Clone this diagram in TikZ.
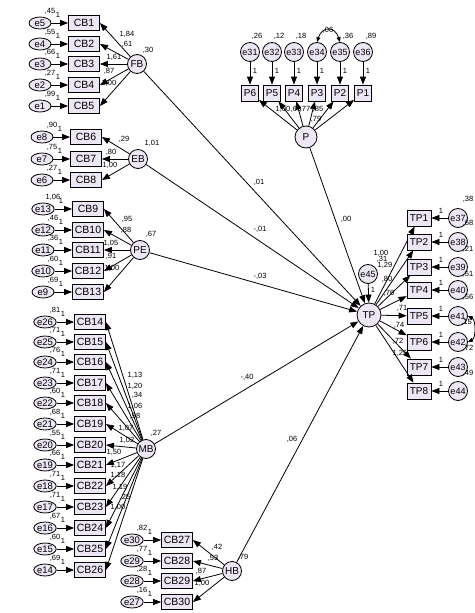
\documentclass[tikz,border=0pt]{standalone}
\usepackage{fontspec}
\setmainfont{Liberation Sans}
\usetikzlibrary{arrows.meta,shapes.geometric,calc}
\definecolor{nf}{RGB}{236,230,245}
\newcommand{\mylbl}[3]{\node[lbl] at (#1,#2) {#3};}
\newcommand{\mkind}[8]{%
  \node[obs] (#1) at (#3,#4) {#2};
  \node[err] (#5) at (#7,#4) {#6};
  \draw[arr] (#5) -- (#1);
  \node[lbl] at ($(#7,#4)+(10,-12)$) {#8};
  \node[lbl] at ($(#7,#4)+(18,-8)$) {1};
}
\begin{document}
\begin{tikzpicture}[x=1pt,y=-1pt,
 obs/.style={draw,fill=nf,line width=0.8pt,minimum width=31pt,minimum height=15pt,inner sep=0pt,font=\fontsize{10.5}{11}\selectfont},
 tpb/.style={draw,fill=nf,line width=0.8pt,minimum width=24pt,minimum height=16pt,inner sep=0pt,font=\fontsize{10}{11}\selectfont},
 pb/.style={draw,fill=nf,line width=0.8pt,minimum width=17pt,minimum height=16pt,inner sep=0pt,font=\fontsize{10}{11}\selectfont},
 err/.style={draw,fill=nf,line width=0.8pt,ellipse,minimum width=22pt,minimum height=12pt,inner sep=0pt,font=\fontsize{9.5}{10}\selectfont},
 lat/.style={draw,fill=nf,line width=0.8pt,circle,minimum size=19pt,inner sep=0pt,font=\fontsize{10}{11}\selectfont},
 ecirc/.style={draw,fill=nf,line width=0.8pt,circle,minimum size=19pt,inner sep=0pt,font=\fontsize{9}{10}\selectfont},
 lbl/.style={font=\fontsize{7.5}{8}\selectfont,inner sep=0pt},
 arr/.style={-{Triangle[length=8pt,width=6pt]},line width=0.8pt},
 darr/.style={{Triangle[length=5pt,width=4pt]}-{Triangle[length=5pt,width=4pt]},line width=0.8pt},
]
\useasboundingbox (0,0) rectangle (474,613);

% ---------- FB ----------
\node[lat] (FB) at (137,64) {FB};
\mkind{CB1}{CB1}{84}{23}{e5}{e5}{40}{,45}
\mkind{CB2}{CB2}{84}{44}{e4}{e4}{40}{,55}
\mkind{CB3}{CB3}{84}{64}{e3}{e3}{40}{,66}
\mkind{CB4}{CB4}{84}{85}{e2}{e2}{40}{,27}
\mkind{CB5}{CB5}{84}{106}{e1}{e1}{40}{,99}
\foreach \b in {1,...,5} \draw[arr] (FB) -- (CB\b.east);
\mylbl{127}{34}{1,84}
\mylbl{127}{44}{,61}
\mylbl{114}{57}{1,61}
\mylbl{109}{71}{,87}
\mylbl{109}{83}{1,00}
\mylbl{148}{50}{,30}

% ---------- EB ----------
\node[lat] (EB) at (138,159) {EB};
\mkind{CB6}{CB6}{86}{137}{e8}{e8}{42}{,90}
\mkind{CB7}{CB7}{86}{159}{e7}{e7}{42}{,75}
\mkind{CB8}{CB8}{86}{180}{e6}{e6}{42}{,27}
\foreach \b in {6,7,8} \draw[arr] (EB) -- (CB\b.east);
\mylbl{124}{139}{,29}
\mylbl{111}{152}{,80}
\mylbl{110}{165}{1,00}
\mylbl{152}{143}{1,01}

% ---------- PE ----------
\node[lat] (PE) at (140,250) {PE};
\mkind{CB9}{CB9}{88}{209}{e13}{e13}{43}{1,06}
\mkind{CB10}{CB10}{88}{230}{e12}{e12}{43}{,46}
\mkind{CB11}{CB11}{88}{250}{e11}{e11}{43}{,36}
\mkind{CB12}{CB12}{88}{271}{e10}{e10}{43}{,60}
\mkind{CB13}{CB13}{88}{292}{e9}{e9}{43}{,69}
\foreach \b in {9,...,13} \draw[arr] (PE) -- (CB\b.east);
\mylbl{127}{219}{,95}
\mylbl{126}{230}{,88}
\mylbl{111}{243}{1,05}
\mylbl{111}{256}{,91}
\mylbl{112}{268}{1,00}
\mylbl{151}{234}{,67}

% ---------- MB ----------
\node[lat] (MB) at (146,449) {MB};
\mkind{CB14}{CB14}{90}{322}{e26}{e26}{45}{,81}
\mkind{CB15}{CB15}{90}{342}{e25}{e25}{45}{,71}
\mkind{CB16}{CB16}{90}{362}{e24}{e24}{45}{,76}
\mkind{CB17}{CB17}{90}{383}{e23}{e23}{45}{,71}
\mkind{CB18}{CB18}{90}{403}{e22}{e22}{45}{,60}
\mkind{CB19}{CB19}{90}{424}{e21}{e21}{45}{,68}
\mkind{CB20}{CB20}{90}{445}{e20}{e20}{45}{,55}
\mkind{CB21}{CB21}{90}{465}{e19}{e19}{45}{,66}
\mkind{CB22}{CB22}{90}{486}{e18}{e18}{45}{,71}
\mkind{CB23}{CB23}{90}{507}{e17}{e17}{45}{,71}
\mkind{CB24}{CB24}{90}{528}{e16}{e16}{45}{,67}
\mkind{CB25}{CB25}{90}{549}{e15}{e15}{45}{,60}
\mkind{CB26}{CB26}{90}{570}{e14}{e14}{45}{,69}
\foreach \b in {14,...,26} \draw[arr] (MB) -- (CB\b.east);
\mylbl{135}{375}{1,13}
\mylbl{135}{386}{1,20}
\mylbl{137}{395}{,34}
\mylbl{135}{406}{1,06}
\mylbl{135}{416}{,98}
\mylbl{126}{428}{1,07}
\mylbl{127}{440}{1,02}
\mylbl{114}{452}{1,50}
\mylbl{118}{465}{1,17}
\mylbl{118}{475}{1,18}
\mylbl{120}{487}{1,19}
\mylbl{125}{497}{,25}
\mylbl{118}{507}{1,00}
\mylbl{156}{433}{,27}

% ---------- HB ----------
\node[lat] (HB) at (232,571) {HB};
\mkind{CB27}{CB27}{177}{540}{e30}{e30}{132}{,82}
\mkind{CB28}{CB28}{177}{561}{e29}{e29}{132}{,77}
\mkind{CB29}{CB29}{177}{581}{e28}{e28}{132}{,28}
\mkind{CB30}{CB30}{177}{602}{e27}{e27}{132}{,16}
\foreach \b in {27,...,30} \draw[arr] (HB) -- (CB\b.east);
\mylbl{217}{547}{,42}
\mylbl{213}{558}{,53}
\mylbl{201}{571}{,87}
\mylbl{202}{583}{1,00}
\mylbl{243}{557}{,79}

% ---------- P ----------
\node[lat,minimum size=22pt] (P) at (306,137) {P};
\foreach \k/\x/\v in {6/250/31,5/272/32,4/294/33,3/317/34,2/340/35,1/363/36}{
  \node[pb] (P\k) at (\x,93) {P\k};
  \node[ecirc] (e\v) at (\x,52) {e\v};
  \draw[arr] (e\v) -- (P\k);
  \node[lbl] at (\x+5,71) {1};
  \draw[arr] (P) -- (P\k);
}
\mylbl{257}{36}{,26}
\mylbl{279}{36}{,12}
\mylbl{301}{36}{,18}
\mylbl{348}{36}{,36}
\mylbl{371}{36}{,89}
\draw[darr] (e34.north) .. controls (322,26) and (335,26) .. (e35.north);
\mylbl{328}{30}{,06}
\mylbl{283}{109}{1,00}
\mylbl{296}{109}{,60}
\mylbl{305}{109}{,77}
\mylbl{318}{109}{,85}
\mylbl{316}{119}{,79}

% ---------- TP ----------
\node[lat,minimum size=24pt] (TP) at (369,315) {TP};
\node[ecirc] (e45) at (368,274) {e45};
\draw[arr] (e45) -- (TP);
\mylbl{373}{290}{1}
\mylbl{382}{259}{,31}
\foreach \k/\y/\v in {1/218/37,2/242/38,3/267/39,4/290/40,5/316/41,6/342/42,7/367/43,8/391/44}{
  \node[tpb] (TP\k) at (419,\y) {TP\k};
  \node[ecirc] (e\v) at (458,\y) {e\v};
  \draw[arr] (e\v) -- (TP\k);
  \node[lbl] at (441,\y-7) {1};
  \draw[arr] (TP) -- (TP\k);
}
\mylbl{381}{253}{1,00}
\mylbl{385}{265}{1,29}
\mylbl{387}{279}{,80}
\mylbl{389}{293}{,76}
\mylbl{402}{308}{,71}
\mylbl{399}{325}{,74}
\mylbl{398}{341}{,72}
\mylbl{400}{353}{1,25}
\node[lbl,anchor=east] at (473.5,199) {,38};
\node[lbl,anchor=east] at (473.5,223) {,68};
\node[lbl,anchor=east] at (473.5,249) {,21};
\node[lbl,anchor=east] at (473.5,274) {,51};
\node[lbl,anchor=east] at (473.5,297) {,56};
\node[lbl,anchor=east] at (472,322) {,15};
\node[lbl,anchor=east] at (473.5,348) {,72};
\node[lbl,anchor=east] at (473.5,373) {,49};
\draw[darr] (e41.east) .. controls (476,320) and (476,338) .. (e42.east);

% ---------- structural paths ----------
\draw[arr] (FB) -- (TP);
\draw[arr] (EB) -- (TP);
\draw[arr] (PE) -- (TP);
\draw[arr] (MB) -- (TP);
\draw[arr] (HB) -- (TP);
\draw[arr] (P) -- (TP);
\mylbl{259}{182}{,01}
\mylbl{260}{229}{-,01}
\mylbl{260}{276}{-,03}
\mylbl{346}{219}{,00}
\mylbl{247}{377}{-,40}
\mylbl{292}{439}{,06}
\end{tikzpicture}
\end{document}
